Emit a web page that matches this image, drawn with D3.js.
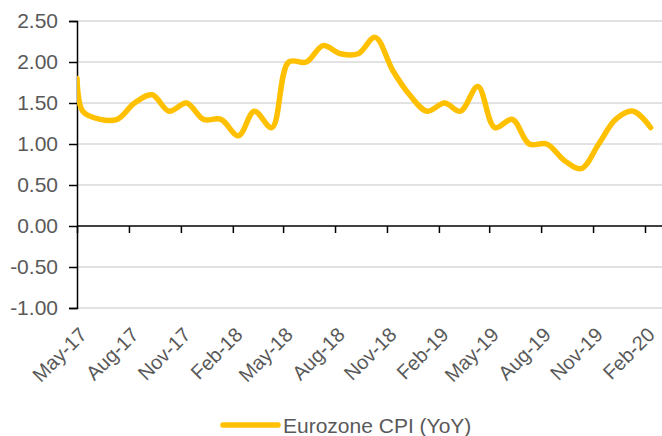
<!DOCTYPE html>
<html>
<head>
<meta charset="utf-8">
<script src="https://cdn.jsdelivr.net/npm/d3@7"></script>
<style>
  body { margin: 0; background: #fff; }
  text { font-family: "Liberation Sans", Arial, sans-serif; fill: #595959; }
</style>
</head>
<body>
<script>
const canvWidth = 662, canvHeight = 436;

// monthly readings, Apr-17 .. Feb-20
const months = ["2017-04", "2017-05", "2017-06", "2017-07", "2017-08", "2017-09", "2017-10", "2017-11", "2017-12",
    "2018-01", "2018-02", "2018-03", "2018-04", "2018-05", "2018-06", "2018-07", "2018-08", "2018-09", "2018-10", "2018-11", "2018-12",
    "2019-01", "2019-02", "2019-03", "2019-04", "2019-05", "2019-06", "2019-07", "2019-08", "2019-09", "2019-10", "2019-11", "2019-12",
    "2020-01", "2020-02"];
const cpi = [1.8, 1.4, 1.3, 1.3, 1.5, 1.6, 1.4, 1.5, 1.3,
    1.3, 1.1, 1.4, 1.2, 2.0, 2.0, 2.2, 2.1, 2.1, 2.3, 1.9, 1.6,
    1.4, 1.5, 1.4, 1.7, 1.2, 1.3, 1.0, 1.0, 0.8, 0.7, 1.0, 1.3,
    1.4, 1.2];
const xTickLabels = ["May-17", "Aug-17", "Nov-17", "Feb-18", "May-18", "Aug-18", "Nov-18", "Feb-19",
    "May-19", "Aug-19", "Nov-19", "Feb-20"];
const yTicks = [-1, -0.5, 0, 0.5, 1, 1.5, 2, 2.5];
const seriesName = "Eurozone CPI (YoY)";

const plot = {left: 77, right: 662, top: 21, bottom: 308, xEnd: 645};

const parseMonth = d3.timeParse("%Y-%m");
const parseLabel = d3.timeParse("%b-%y");
const xStart = parseLabel(xTickLabels[0]);
const xLast = parseLabel(xTickLabels[xTickLabels.length - 1]);

const xScale = d3.scaleTime().domain([xStart, xLast]).range([plot.left, plot.xEnd]);
const yScale = d3.scaleLinear().domain([-1, 2.5]).range([plot.bottom, plot.top]);

// first reading sits on the axis start, the rest a third into their month
const data = months.map((m, i) => ({
    date: i === 0 ? xStart : d3.timeDay.offset(parseMonth(m), 10),
    value: cpi[i]
}));

const svg = d3.select("body").append("svg")
    .attr("width", canvWidth)
    .attr("height", canvHeight);

svg.append("defs").append("clipPath")
    .attr("id", "plot-clip")
    .append("rect")
    .attr("x", plot.left)
    .attr("y", 0)
    .attr("width", plot.right - plot.left)
    .attr("height", canvHeight);

// gridlines
svg.append("g")
    .attr("id", "grid")
    .selectAll("line")
    .data(yTicks.filter(d => d !== 0))
    .enter().append("line")
    .attr("x1", plot.left)
    .attr("x2", plot.right)
    .attr("y1", d => yScale(d))
    .attr("y2", d => yScale(d))
    .attr("stroke", "#d9d9d9")
    .attr("stroke-width", 1.5);

// y axis
const yAxis = d3.axisLeft(yScale)
    .tickValues(yTicks)
    .tickSize(8)
    .tickPadding(11)
    .tickFormat(d => d.toFixed(2));

const yAxisG = svg.append("g")
    .attr("id", "yAxis")
    .attr("transform", `translate(${plot.left},0)`)
    .call(yAxis);
yAxisG.select(".domain").attr("stroke", "#000").attr("stroke-width", 1.5);
yAxisG.selectAll(".tick line").attr("stroke", "#000").attr("stroke-width", 1.5);
yAxisG.selectAll(".tick text")
    .attr("font-size", "21px")
    .attr("fill", "#595959")
    .attr("font-family", "Liberation Sans, Arial, sans-serif");

// x axis on the zero line
const xTickDates = xTickLabels.map(parseLabel);
const xAxis = d3.axisBottom(xScale)
    .tickValues(xTickDates)
    .tickSize(7)
    .tickSizeOuter(0)
    .tickFormat("");

const xAxisG = svg.append("g")
    .attr("id", "xAxis")
    .attr("transform", `translate(0,${yScale(0)})`)
    .call(xAxis);
xAxisG.select(".domain")
    .attr("d", `M${plot.left},0H${plot.right}`)
    .attr("stroke", "#000").attr("stroke-width", 1.5);
xAxisG.selectAll(".tick line").attr("stroke", "#000").attr("stroke-width", 1.5);

// rotated month labels at the bottom
svg.append("g")
    .attr("id", "xLabels")
    .selectAll("text")
    .data(xTickLabels)
    .enter().append("text")
    .attr("transform", d => `translate(${xScale(parseLabel(d)) + 11},336) rotate(-45)`)
    .attr("text-anchor", "end")
    .attr("font-size", "20px")
    .text(d => d);

// the series
const line = d3.line()
    .x(d => xScale(d.date))
    .y(d => yScale(d.value))
    .curve(d3.curveCatmullRom.alpha(0.5));

svg.append("path")
    .datum(data)
    .attr("clip-path", "url(#plot-clip)")
    .attr("fill", "none")
    .attr("stroke", "#ffc000")
    .attr("stroke-width", 5.5)
    .attr("stroke-linejoin", "round")
    .attr("stroke-linecap", "round")
    .attr("d", line);

// legend
const legend = svg.append("g").attr("id", "legend");
legend.append("line")
    .attr("x1", 223).attr("x2", 278)
    .attr("y1", 425).attr("y2", 425)
    .attr("stroke", "#ffc000")
    .attr("stroke-width", 5.5)
    .attr("stroke-linecap", "round");
legend.append("text")
    .attr("x", 283)
    .attr("y", 433)
    .attr("font-size", "21px")
    .text(seriesName);
</script>
</body>
</html>
